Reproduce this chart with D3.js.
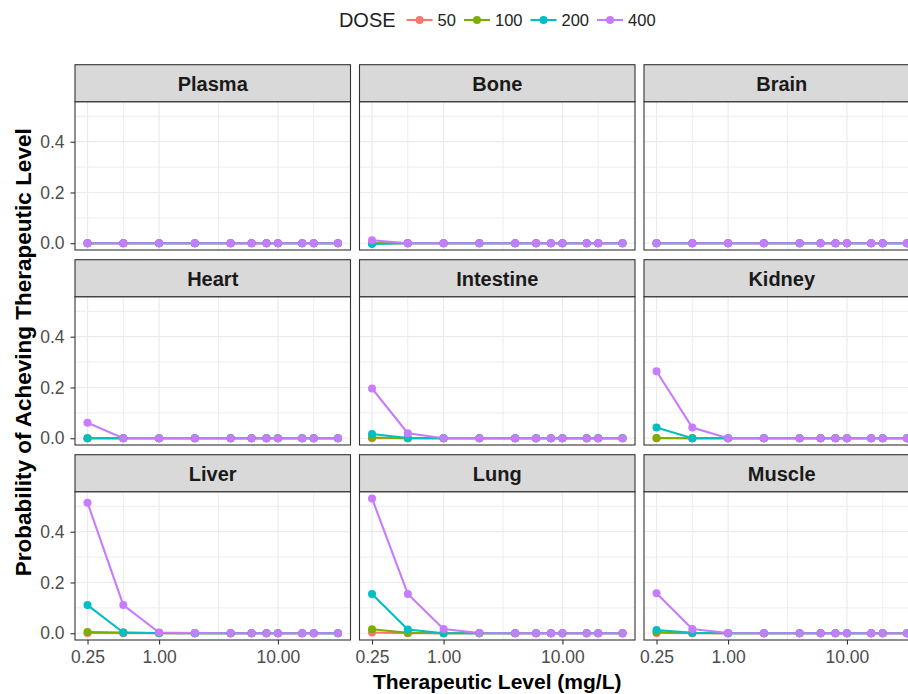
<!doctype html>
<html>
<head>
<meta charset="utf-8">
<title>Probability of achieving therapeutic level</title>
<style>
  body { margin: 0; background: #fff; }
  svg { display: block; font-family: "Liberation Sans", Arial, sans-serif; }
</style>
</head>
<body>
<div id="here"></div>
<script src="https://d3js.org/d3.v7.min.js"></script>
<script>
// therapeutic levels (mg/L) on the x axis
var levels = [0.25, 0.5, 1, 2, 4, 6, 8, 10, 16, 20, 32];
var doses = [50, 100, 200, 400];
var tissues = ["Plasma", "Bone", "Brain", "Heart", "Intestine", "Kidney", "Liver", "Lung", "Muscle"];

// one row per dose (50, 100, 200, 400), one value per level
var plasma = [
  [0, 0, 0, 0, 0, 0, 0, 0, 0, 0, 0],
  [0, 0, 0, 0, 0, 0, 0, 0, 0, 0, 0],
  [0, 0, 0, 0, 0, 0, 0, 0, 0, 0, 0],
  [0, 0, 0, 0, 0, 0, 0, 0, 0, 0, 0]
];
var bone = [
  [0, 0, 0, 0, 0, 0, 0, 0, 0, 0, 0],
  [0, 0, 0, 0, 0, 0, 0, 0, 0, 0, 0],
  [-0.003, 0, 0, 0, 0, 0, 0, 0, 0, 0, 0],
  [0.012, 0, 0, 0, 0, 0, 0, 0, 0, 0, 0]
];
var brain = [
  [0, 0, 0, 0, 0, 0, 0, 0, 0, 0, 0],
  [0, 0, 0, 0, 0, 0, 0, 0, 0, 0, 0],
  [0, 0, 0, 0, 0, 0, 0, 0, 0, 0, 0],
  [0, 0, 0, 0, 0, 0, 0, 0, 0, 0, 0]
];
var heart = [
  [0, 0, 0, 0, 0, 0, 0, 0, 0, 0, 0],
  [0, 0, 0, 0, 0, 0, 0, 0, 0, 0, 0],
  [0, 0, 0, 0, 0, 0, 0, 0, 0, 0, 0],
  [0.061, 0, 0, 0, 0, 0, 0, 0, 0, 0, 0]
];
var intestine = [
  [0, 0, 0, 0, 0, 0, 0, 0, 0, 0, 0],
  [0.003, 0, 0, 0, 0, 0, 0, 0, 0, 0, 0],
  [0.017, 0.001, 0, 0, 0, 0, 0, 0, 0, 0, 0],
  [0.196, 0.02, 0, 0, 0, 0, 0, 0, 0, 0, 0]
];
var kidney = [
  [0, 0, 0, 0, 0, 0, 0, 0, 0, 0, 0],
  [0.001, 0, 0, 0, 0, 0, 0, 0, 0, 0, 0],
  [0.042, 0, 0, 0, 0, 0, 0, 0, 0, 0, 0],
  [0.264, 0.042, 0, 0, 0, 0, 0, 0, 0, 0, 0]
];
var liver = [
  [0.001, 0, 0, 0, 0, 0, 0, 0, 0, 0, 0],
  [0.005, 0.003, 0, 0, 0, 0, 0, 0, 0, 0, 0],
  [0.111, 0.003, 0.001, 0, 0, 0, 0, 0, 0, 0, 0],
  [0.514, 0.111, 0.003, 0.001, 0, 0, 0, 0, 0, 0, 0]
];
var lung = [
  [0.003, 0, 0, 0, 0, 0, 0, 0, 0, 0, 0],
  [0.016, 0.002, 0, 0, 0, 0, 0, 0, 0, 0, 0],
  [0.155, 0.015, 0, 0, 0, 0, 0, 0, 0, 0, 0],
  [0.531, 0.155, 0.017, 0.001, 0, 0, 0, 0, 0, 0, 0]
];
var muscle = [
  [0.001, 0, 0, 0, 0, 0, 0, 0, 0, 0, 0],
  [0.005, 0.001, 0, 0, 0, 0, 0, 0, 0, 0, 0],
  [0.013, 0.002, 0, 0, 0, 0, 0, 0, 0, 0, 0],
  [0.158, 0.017, 0.001, 0, 0, 0, 0, 0, 0, 0, 0]
];
var values = [plasma, bone, brain, heart, intestine, kidney, liver, lung, muscle];

var xTicks = [0.25, 1, 10];
var xMinor = [0.5, Math.sqrt(10), 20];
var yTicks = [0, 0.2, 0.4];
var yMinor = [0.1, 0.3, 0.5];
var colors = ["#F8766D", "#7CAE00", "#00BFC4", "#C77CFF"];

var w = 908, h = 694;
var left0 = 75, top0 = 64.7, panelW = 275.5, gapX = 9, stripH = 37, panelH = 148.3, rowStep = 195;
var lw = 2.1, pr = 4;

var svg = d3.select("#here").append("svg")
  .attr("width", w)
  .attr("height", h)
  .style("background", "#fff");

// log x with 5% padding like ggplot
var lx0 = Math.log10(levels[0]), lx1 = Math.log10(levels[levels.length - 1]);
var pad = (lx1 - lx0) * 0.05;
var x = d3.scaleLog()
  .domain([Math.pow(10, lx0 - pad), Math.pow(10, lx1 + pad)])
  .range([0, panelW]);

var ymax = d3.max(values, function(t) { return d3.max(t, function(r) { return d3.max(r); }); });
var y = d3.scaleLinear()
  .domain([-0.05 * ymax, 1.05 * ymax])
  .range([panelH, 0]);

var line = d3.line()
  .x(function(d, i) { return x(levels[i]); })
  .y(function(d) { return y(d); });

tissues.forEach(function(name, k) {
  var col = k % 3, row = Math.floor(k / 3);
  var px = left0 + col * (panelW + gapX);
  var py = top0 + row * rowStep + stripH;
  var g = svg.append("g").attr("transform", "translate(" + px + "," + py + ")");

  g.append("rect").attr("width", panelW).attr("height", panelH).attr("fill", "#fff");

  // grid
  g.selectAll(".ym").data(yMinor).enter().append("line")
    .attr("x1", 0).attr("x2", panelW)
    .attr("y1", function(d) { return y(d); }).attr("y2", function(d) { return y(d); })
    .attr("stroke", "#EBEBEB").attr("stroke-width", 0.9);
  g.selectAll(".xm").data(xMinor).enter().append("line")
    .attr("y1", 0).attr("y2", panelH)
    .attr("x1", function(d) { return x(d); }).attr("x2", function(d) { return x(d); })
    .attr("stroke", "#EBEBEB").attr("stroke-width", 0.9);
  g.selectAll(".yM").data(yTicks).enter().append("line")
    .attr("x1", 0).attr("x2", panelW)
    .attr("y1", function(d) { return y(d); }).attr("y2", function(d) { return y(d); })
    .attr("stroke", "#EBEBEB").attr("stroke-width", 1.2);
  g.selectAll(".xM").data(xTicks).enter().append("line")
    .attr("y1", 0).attr("y2", panelH)
    .attr("x1", function(d) { return x(d); }).attr("x2", function(d) { return x(d); })
    .attr("stroke", "#EBEBEB").attr("stroke-width", 1.2);

  var series = values[k];
  series.forEach(function(s, j) {
    g.append("path")
      .attr("d", line(s))
      .attr("fill", "none")
      .attr("stroke", colors[j])
      .attr("stroke-width", lw);
  });
  series.forEach(function(s, j) {
    g.selectAll(".p" + j).data(s).enter().append("circle")
      .attr("cx", function(d, i) { return x(levels[i]); })
      .attr("cy", function(d) { return y(d); })
      .attr("r", pr)
      .attr("fill", colors[j]);
  });

  g.append("rect").attr("width", panelW).attr("height", panelH)
    .attr("fill", "none").attr("stroke", "#333").attr("stroke-width", 1.1);

  // strip
  g.append("rect").attr("y", -stripH).attr("width", panelW).attr("height", stripH)
    .attr("fill", "#D9D9D9").attr("stroke", "#333").attr("stroke-width", 1.1);
  g.append("text")
    .attr("x", panelW / 2).attr("y", -stripH / 2 + 7.3)
    .attr("text-anchor", "middle")
    .attr("font-size", 20).attr("font-weight", "bold").attr("fill", "#1A1A1A")
    .text(name);

  if (row == 2) {
    var ax = g.append("g").attr("transform", "translate(0," + panelH + ")")
      .call(d3.axisBottom(x).tickValues(xTicks).tickFormat(d3.format(".2f")).tickSize(4.5).tickPadding(6.5));
    ax.select(".domain").remove();
    ax.selectAll("line").attr("stroke", "#333").attr("stroke-width", 1.1);
    ax.selectAll("text").attr("font-size", 17.5).attr("fill", "#4D4D4D").attr("font-family", "Liberation Sans, Arial, sans-serif");
  }
  if (col == 0) {
    var ay = g.append("g")
      .call(d3.axisLeft(y).tickValues(yTicks).tickFormat(d3.format(".1f")).tickSize(4.5).tickPadding(6));
    ay.select(".domain").remove();
    ay.selectAll("line").attr("stroke", "#333").attr("stroke-width", 1.1);
    ay.selectAll("text").attr("font-size", 17.5).attr("fill", "#4D4D4D").attr("font-family", "Liberation Sans, Arial, sans-serif");
  }
});

var midX = left0 + (3 * panelW + 2 * gapX) / 2;
var midY = top0 + (2 * rowStep + stripH + panelH) / 2;

svg.append("text")
  .attr("x", midX).attr("y", 689)
  .attr("text-anchor", "middle")
  .attr("font-size", 21).attr("font-weight", "bold")
  .text("Therapeutic Level (mg/L)");

svg.append("text")
  .attr("transform", "translate(30.5," + midY + ") rotate(-90)")
  .attr("text-anchor", "middle")
  .attr("font-size", 22.5).attr("font-weight", "bold")
  .text("Probability of Acheving Therapeutic Level");

// legend on top, centred over the panels
var leg = svg.append("g");
var legY = 20;
var title = leg.append("text").attr("y", legY + 7.2).attr("font-size", 20).attr("fill", "#222").text("DOSE");
var cx = title.node().getComputedTextLength() + 11;
doses.forEach(function(d, j) {
  leg.append("line").attr("x1", cx).attr("x2", cx + 26).attr("y1", legY).attr("y2", legY)
    .attr("stroke", colors[j]).attr("stroke-width", lw);
  leg.append("circle").attr("cx", cx + 13).attr("cy", legY).attr("r", pr).attr("fill", colors[j]);
  var t = leg.append("text").attr("x", cx + 31).attr("y", legY + 6).attr("font-size", 16.5).attr("fill", "#222").text(d);
  cx += 31 + t.node().getComputedTextLength() + (j < doses.length - 1 ? 8 : 0);
});
leg.attr("transform", "translate(" + (midX - cx / 2) + ",0)");
</script>
</body>
</html>
